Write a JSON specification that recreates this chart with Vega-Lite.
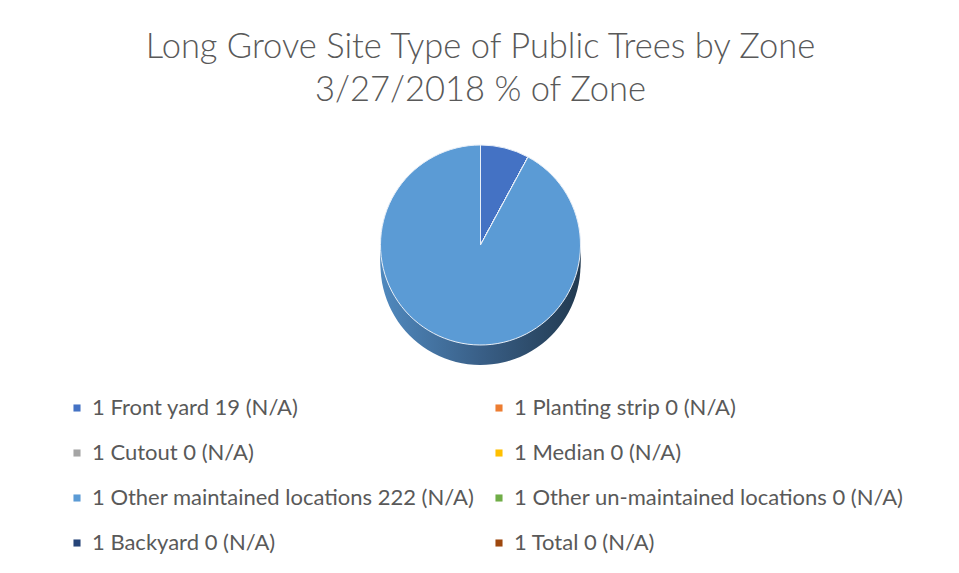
{
  "$schema": "https://vega.github.io/schema/vega-lite/v6.json",
  "autosize": {"type": "none"},
  "width": 957,
  "height": 270,
  "padding": {"left": 2, "right": 0, "top": 110, "bottom": 193},
  "background": "white",
  "title": {
    "text": ["Long Grove Site Type of Public Trees by Zone", "3/27/2018 % of Zone"],
    "font": "Lato",
    "fontWeight": 300,
    "fontSize": 34.5,
    "color": "#595959",
    "lineHeight": 43,
    "anchor": "middle",
    "offset": 2
  },
  "config": {"view": {"stroke": null}},
  "data": {
    "values": [
      {"idx": 1, "label": "1 Front yard 19 (N/A)", "trees": 19},
      {"idx": 2, "label": "1 Planting strip 0 (N/A)", "trees": 0},
      {"idx": 3, "label": "1 Cutout 0 (N/A)", "trees": 0},
      {"idx": 4, "label": "1 Median 0 (N/A)", "trees": 0},
      {"idx": 5, "label": "1 Other maintained locations 222 (N/A)", "trees": 222},
      {"idx": 6, "label": "1 Other un-maintained locations 0 (N/A)", "trees": 0},
      {"idx": 7, "label": "1 Backyard 0 (N/A)", "trees": 0},
      {"idx": 8, "label": "1 Total 0 (N/A)", "trees": 0}
    ]
  },
  "layer": [
    {
      "mark": {"type": "arc", "radius": 100, "yOffset": 20,
        "color": {"gradient": "linear", "x1": 0, "x2": 1, "y1": 0, "y2": 0,
          "stops": [{"offset": 0, "color": "#5089be"}, {"offset": 0.5, "color": "#395f87"}, {"offset": 1, "color": "#223a50"}]}},
      "encoding": {
        "theta": {"field": "trees", "type": "quantitative", "stack": true},
        "order": {"field": "idx", "type": "quantitative"}
      }
    },
    {
      "mark": {"type": "arc", "radius": 100, "yOffset": 15,
        "color": {"gradient": "linear", "x1": 0, "x2": 1, "y1": 0, "y2": 0,
          "stops": [{"offset": 0, "color": "#5089be"}, {"offset": 0.5, "color": "#395f87"}, {"offset": 1, "color": "#223a50"}]}},
      "encoding": {
        "theta": {"field": "trees", "type": "quantitative", "stack": true},
        "order": {"field": "idx", "type": "quantitative"}
      }
    },
    {
      "mark": {"type": "arc", "radius": 100, "yOffset": 10,
        "color": {"gradient": "linear", "x1": 0, "x2": 1, "y1": 0, "y2": 0,
          "stops": [{"offset": 0, "color": "#5089be"}, {"offset": 0.5, "color": "#395f87"}, {"offset": 1, "color": "#223a50"}]}},
      "encoding": {
        "theta": {"field": "trees", "type": "quantitative", "stack": true},
        "order": {"field": "idx", "type": "quantitative"}
      }
    },
    {
      "mark": {"type": "arc", "radius": 100, "yOffset": 5,
        "color": {"gradient": "linear", "x1": 0, "x2": 1, "y1": 0, "y2": 0,
          "stops": [{"offset": 0, "color": "#5089be"}, {"offset": 0.5, "color": "#395f87"}, {"offset": 1, "color": "#223a50"}]}},
      "encoding": {
        "theta": {"field": "trees", "type": "quantitative", "stack": true},
        "order": {"field": "idx", "type": "quantitative"}
      }
    },
    {
      "mark": {"type": "arc", "radius": 100, "stroke": "#e8eff8", "strokeWidth": 1},
      "encoding": {
        "theta": {"field": "trees", "type": "quantitative", "stack": true},
        "order": {"field": "idx", "type": "quantitative"},
        "color": {
          "field": "label",
          "type": "nominal",
          "scale": {
            "domain": [
              "1 Front yard 19 (N/A)",
              "1 Planting strip 0 (N/A)",
              "1 Cutout 0 (N/A)",
              "1 Median 0 (N/A)",
              "1 Other maintained locations 222 (N/A)",
              "1 Other un-maintained locations 0 (N/A)",
              "1 Backyard 0 (N/A)",
              "1 Total 0 (N/A)"
            ],
            "range": ["#4472C4", "#ED7D31", "#A5A5A5", "#FFC000", "#5B9BD5", "#70AD47", "#264478", "#9E480E"]
          },
          "legend": {
            "title": null,
            "orient": "none",
            "direction": "horizontal",
            "legendX": 64,
            "legendY": 287,
            "columns": 2,
            "symbolType": "square",
            "symbolSize": 50,
            "symbolStrokeWidth": 0,
            "labelFont": "Lato",
            "labelFontSize": 22,
            "labelColor": "#595959",
            "labelLimit": 600,
            "labelOffset": 4,
            "rowPadding": 23,
            "columnPadding": 13
          }
        }
      }
    }
  ]
}
